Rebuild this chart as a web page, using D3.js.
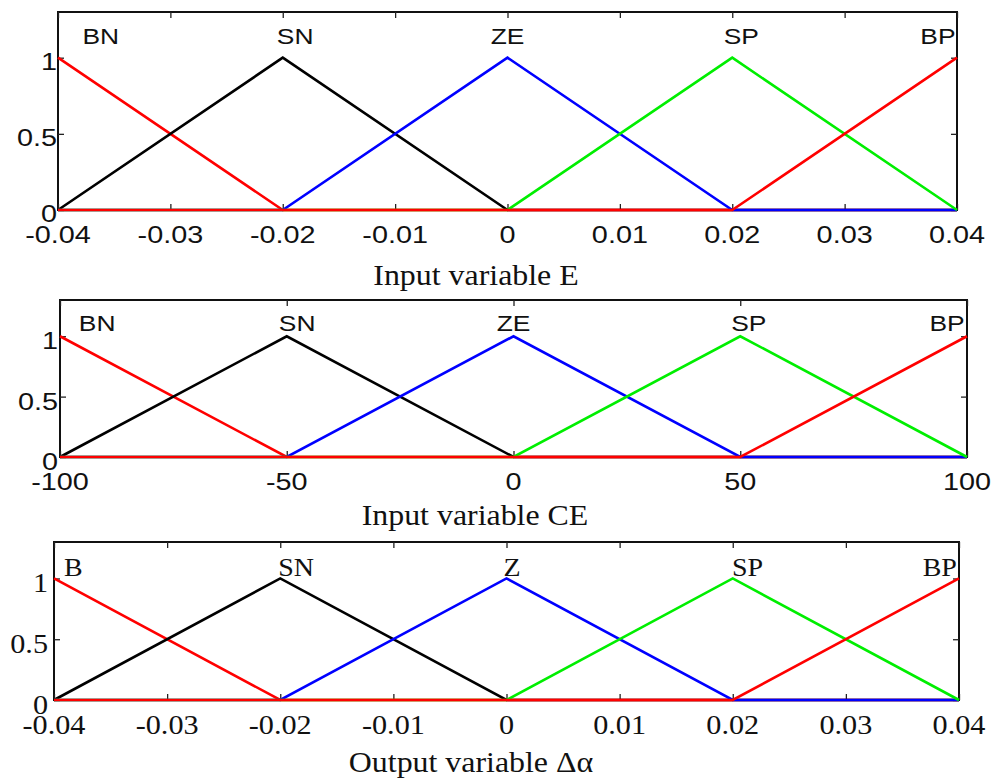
<!DOCTYPE html>
<html>
<head>
<meta charset="utf-8">
<script src="https://cdn.jsdelivr.net/npm/d3@7"></script>
<style>
  html, body { margin: 0; padding: 0; background: #fff; }
  svg { display: block; }
</style>
</head>
<body>
<svg id="chart" width="995" height="780"></svg>
<script>
// ---------- DATA ----------
const mfColors = ["#ff0000", "#000000", "#0000ff", "#00ee00", "#ff0000"];
// membership value of each MF at each breakpoint (rows = MFs)
const mfValues = [
  [1, 0, 0, 0, 0],
  [0, 1, 0, 0, 0],
  [0, 0, 1, 0, 0],
  [0, 0, 0, 1, 0],
  [0, 0, 0, 0, 1]
];

// Panel 1: Input variable E
const eBreaks = [-0.04, -0.02, 0, 0.02, 0.04];
const eNames = ["BN", "SN", "ZE", "SP", "BP"];
const eNamePos = [-0.0362, -0.0189, 0, 0.0208, 0.0383];
const eTicks = [-0.04, -0.03, -0.02, -0.01, 0, 0.01, 0.02, 0.03, 0.04];
const eTickLabels = ["-0.04", "-0.03", "-0.02", "-0.01", "0", "0.01", "0.02", "0.03", "0.04"];

// Panel 2: Input variable CE
const ceBreaks = [-100, -50, 0, 50, 100];
const ceNames = ["BN", "SN", "ZE", "SP", "BP"];
const ceNamePos = [-91.8, -47.7, 0, 51.9, 95.6];
const ceTicks = [-100, -50, 0, 50, 100];
const ceTickLabels = ["-100", "-50", "0", "50", "100"];

// Panel 3: Output variable Δα
const daBreaks = [-0.04, -0.02, 0, 0.02, 0.04];
const daNames = ["B", "SN", "Z", "SP", "BP"];
const daNamePos = [-0.0383, -0.0186, 0.0005, 0.0213, 0.0383];
const daTicks = [-0.04, -0.03, -0.02, -0.01, 0, 0.01, 0.02, 0.03, 0.04];
const daTickLabels = ["-0.04", "-0.03", "-0.02", "-0.01", "0", "0.01", "0.02", "0.03", "0.04"];

const yTicks = [0, 0.5, 1];
const yTickLabels = ["0", "0.5", "1"];
const yMax = 1.3;

// ---------- DRAW ----------
const svg = d3.select("#chart");

function addText(g, x, y, str, o) {
  g.append("text")
    .attr("transform", `translate(${x},${y}) scale(${o.sx},1)`)
    .attr("text-anchor", o.anchor || "middle")
    .attr("font-family", o.family)
    .attr("font-size", o.size)
    .attr("fill", "#111")
    .text(str);
}

function drawPanel(p) {
  const g = svg.append("g");
  const x = d3.scaleLinear().domain([p.breaks[0], p.breaks[p.breaks.length - 1]]).range([p.left, p.right]);
  const y = d3.scaleLinear().domain([0, yMax]).range([p.bottom, p.top]);

  // box
  g.append("rect")
    .attr("x", p.left).attr("y", p.top)
    .attr("width", p.right - p.left).attr("height", p.bottom - p.top)
    .attr("fill", "none").attr("stroke", "#111").attr("stroke-width", 2);

  // inside ticks (MATLAB style) via d3 axes with negative tick size
  const tl = 6;
  const xb = g.append("g").attr("transform", `translate(0,${p.bottom})`)
    .call(d3.axisBottom(x).tickValues(p.ticks).tickSize(-tl).tickFormat(""));
  const xt = g.append("g").attr("transform", `translate(0,${p.top})`)
    .call(d3.axisTop(x).tickValues(p.ticks).tickSize(-tl).tickFormat(""));
  const yl = g.append("g").attr("transform", `translate(${p.left},0)`)
    .call(d3.axisLeft(y).tickValues(yTicks).tickSize(-tl).tickFormat(""));
  const yr = g.append("g").attr("transform", `translate(${p.right},0)`)
    .call(d3.axisRight(y).tickValues(yTicks).tickSize(-tl).tickFormat(""));
  [xb, xt, yl, yr].forEach(a => {
    a.select(".domain").remove();
    a.selectAll(".tick line").attr("stroke", "#222").attr("stroke-width", 1.3);
  });

  // x tick labels
  p.ticks.forEach((t, i) => {
    addText(g, x(t), p.tickBase, p.tickLabels[i], {family: p.family, size: p.tickSize, sx: p.sx});
  });
  // y tick labels
  yTicks.forEach((t, i) => {
    addText(g, p.yLabRight, y(t) + p.yLabDy, yTickLabels[i], {family: p.family, size: p.tickSize, sx: p.sx, anchor: "end"});
  });

  // membership function lines
  const line = d3.line().x(d => x(d[0])).y(d => y(d[1]));
  mfValues.forEach((row, i) => {
    const pts = p.breaks.map((b, j) => [b, row[j]]);
    g.append("path")
      .attr("d", line(pts))
      .attr("fill", "none")
      .attr("stroke", mfColors[i])
      .attr("stroke-width", 2.6)
      .attr("stroke-linejoin", "miter");
  });

  // MF names
  p.names.forEach((n, i) => {
    addText(g, x(p.namePos[i]), p.nameBase, n, {family: p.family, size: p.nameSize, sx: p.sx});
  });

  // variable title
  addText(g, p.titleX, p.titleBase, p.title, {family: "'Liberation Serif', 'Times New Roman', serif", size: 29, sx: 1.1});
}

const SANS = "'Liberation Sans', Arial, sans-serif";
const SERIF = "'Liberation Serif', 'Times New Roman', serif";

drawPanel({
  breaks: eBreaks, names: eNames, namePos: eNamePos, ticks: eTicks, tickLabels: eTickLabels,
  left: 58, right: 957, top: 12, bottom: 210,
  family: SANS, tickSize: 24, nameSize: 22, sx: 1.2,
  tickBase: 243, yLabRight: 57, yLabDy: 12, nameBase: 44,
  title: "Input variable E", titleX: 476, titleBase: 285
});

drawPanel({
  breaks: ceBreaks, names: ceNames, namePos: ceNamePos, ticks: ceTicks, tickLabels: ceTickLabels,
  left: 60, right: 967, top: 300, bottom: 457,
  family: SANS, tickSize: 24, nameSize: 22, sx: 1.2,
  tickBase: 490, yLabRight: 58, yLabDy: 13, nameBase: 331,
  title: "Input variable CE", titleX: 475, titleBase: 525
});

drawPanel({
  breaks: daBreaks, names: daNames, namePos: daNamePos, ticks: daTicks, tickLabels: daTickLabels,
  left: 54, right: 959, top: 542, bottom: 700,
  family: SERIF, tickSize: 27, nameSize: 25, sx: 1.12,
  tickBase: 734, yLabRight: 48, yLabDy: 14, nameBase: 576,
  title: "Output variable Δα", titleX: 471, titleBase: 772
});
</script>
</body>
</html>
